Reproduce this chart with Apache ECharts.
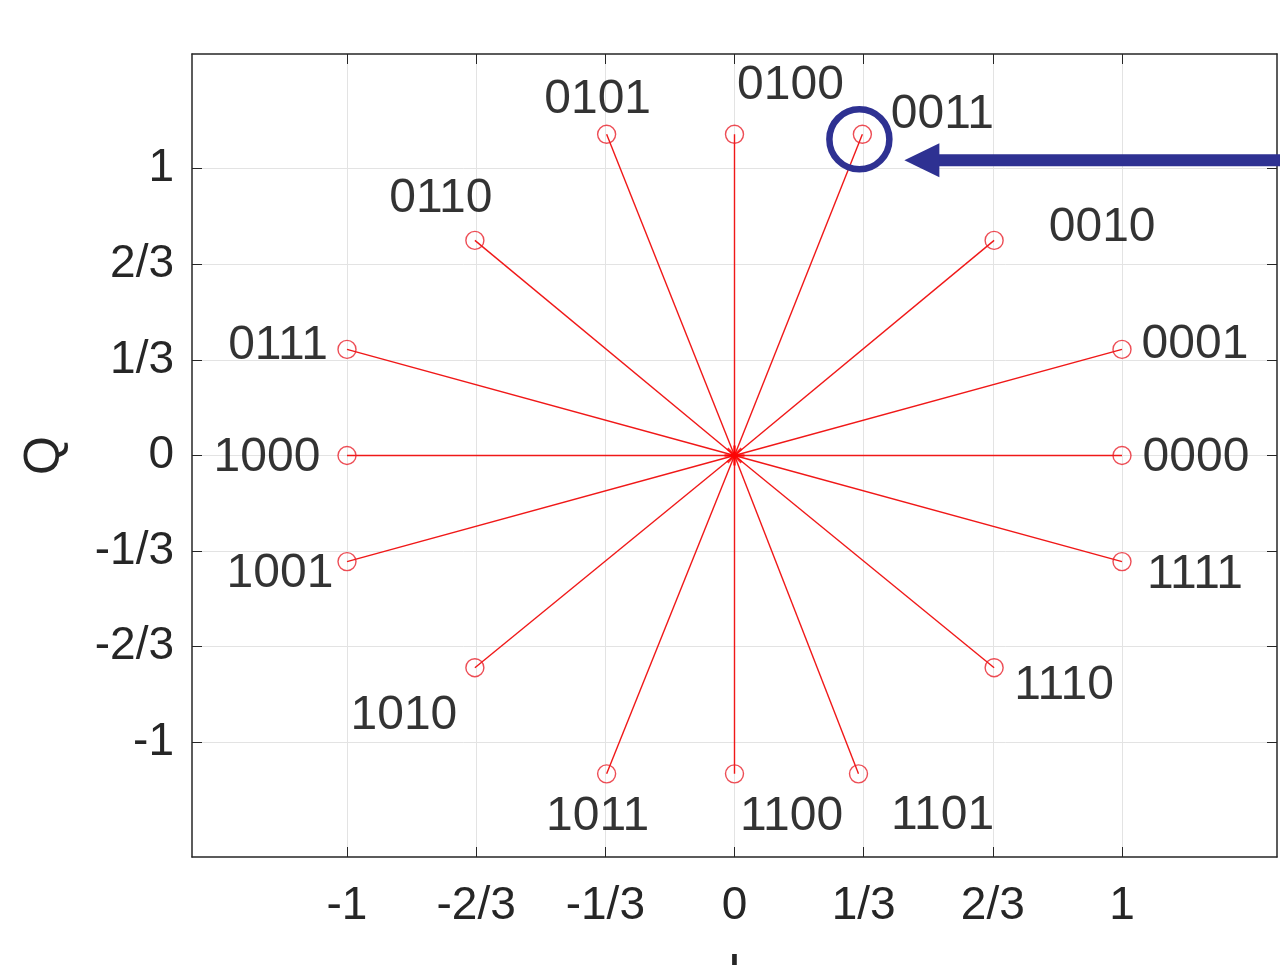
<!DOCTYPE html>
<html>
<head>
<meta charset="utf-8">
<script src="https://cdn.jsdelivr.net/npm/echarts@6/dist/echarts.min.js"></script>
<style>
html, body { margin: 0; padding: 0; background: #fff; }
#main { width: 1280px; height: 965px; }
</style>
</head>
<body>
<div id="main"></div>
<script>
// 星座图数据：比特组合 + I/Q 坐标
var symbols = ['0000', '0001', '0010', '0011', '0100', '0101', '0110', '0111',
               '1000', '1001', '1010', '1011', '1100', '1101', '1110', '1111'];
var iValues = [1, 1, 0.67, 0.33, 0, -0.33, -0.67, -1, -1, -1, -0.67, -0.33, 0, 0.32, 0.67, 1];
var qValues = [0, 0.37, 0.75, 1.12, 1.12, 1.12, 0.75, 0.37, 0, -0.37, -0.74, -1.11, -1.11, -1.11, -0.74, -0.37];
var tickValues = [-1, -2 / 3, -1 / 3, 0, 1 / 3, 2 / 3, 1];
var tickLabels = ['-1', '-2/3', '-1/3', '0', '1/3', '2/3', '1'];
var highlighted = '0011';

// 标签相对圆点中心的偏移 (px)
var labelOffsets = [[74, 2], [73, -5], [108, -13], [80, -20], [56, -49], [-9, -35], [-34, -42], [-69, -4],
                    [-80, 2], [-67, 12], [-71, 48], [-9, 43], [57, 43], [84, 42], [70, 18], [73, 13]];

var FONT = '"Liberation Sans", Arial, Helvetica, sans-serif';
var AXIS_COLOR = '#262626';
var BLUE = '#2e3192';

var myChart = echarts.init(document.getElementById('main'));

function tickFormatter(v) {
    for (var i = 0; i < tickValues.length; i++) {
        if (Math.abs(v - tickValues[i]) < 1e-6) return tickLabels[i];
    }
    return '';
}

function axisBase(position, withLabels, margin) {
    return {
        type: 'value',
        min: -1.4,
        max: 1.4,
        position: position,
        axisLine: { show: true, onZero: false, lineStyle: { color: AXIS_COLOR, width: 1.5 } },
        axisTick: { show: true, inside: true, length: 10, customValues: tickValues,
                    lineStyle: { color: AXIS_COLOR, width: 1 } },
        axisLabel: { show: withLabels, customValues: tickValues, formatter: tickFormatter,
                     fontFamily: FONT, fontSize: 46, color: AXIS_COLOR, margin: margin || 18 },
        splitLine: { show: withLabels, lineStyle: { color: '#e3e3e3', width: 1 } }
    };
}

var xBottom = axisBase('bottom', true, 26);
xBottom.name = 'I';
xBottom.nameLocation = 'middle';
xBottom.nameGap = 93;
xBottom.nameTextStyle = { fontFamily: FONT, fontSize: 50, color: AXIS_COLOR };

var yLeft = axisBase('left', true, 18);
yLeft.name = 'Q';
yLeft.nameLocation = 'middle';
yLeft.nameGap = 122;
yLeft.nameTextStyle = { fontFamily: FONT, fontSize: 50, color: AXIS_COLOR };

var series = [];

// 每个点一条从原点出发的连线
series.push({
    type: 'lines',
    coordinateSystem: 'cartesian2d',
    silent: true,
    z: 10,
    lineStyle: { color: '#f01818', width: 1.4, opacity: 1 },
    data: symbols.map(function (s, k) {
        return { coords: [[0, 0], [iValues[k], qValues[k]]] };
    })
});

series.push({
    type: 'scatter',
    symbol: 'circle',
    symbolSize: 18,
    z: 11,
    itemStyle: { color: 'rgba(255,255,255,0)', borderColor: '#e8202a', borderWidth: 1.4 },
    label: { show: true, position: 'inside', formatter: '{b}', fontFamily: FONT, fontSize: 48, color: '#000' },
    data: symbols.map(function (s, k) {
        return { name: s, value: [iValues[k], qValues[k]], label: { offset: labelOffsets[k] } };
    })
});

// 原点处的星号标记
series.push({
    type: 'scatter',
    symbol: 'path://M0,-10L0,10M-10,0L10,0M-7,-7L7,7M-7,7L7,-7',
    symbolSize: 20,
    z: 12,
    itemStyle: { color: 'rgba(0,0,0,0)', borderColor: '#ff0000', borderWidth: 2.5 },
    data: [[0, 0]]
});

var option = {
    backgroundColor: '#fff',
    animation: false,
    grid: { left: 192, right: 3, top: 54, bottom: 108, containLabel: false, outerBoundsMode: 'none' },
    xAxis: [xBottom, axisBase('top', false)],
    yAxis: [yLeft, axisBase('right', false)],
    series: series
};

myChart.setOption(option);

// 高亮某个点：蓝色圆圈 + 箭头
var k = symbols.indexOf(highlighted);
var p = myChart.convertToPixel({ gridIndex: 0 }, [iValues[k], qValues[k]]);
myChart.setOption({
    graphic: [
        { type: 'circle', z: 100, shape: { cx: p[0] - 3, cy: p[1] + 5, r: 30 },
          style: { fill: 'none', stroke: BLUE, lineWidth: 6.5 } },
        { type: 'rect', z: 100, shape: { x: p[0] + 72, y: p[1] + 20, width: 1280 - (p[0] + 72), height: 12 },
          style: { fill: BLUE } },
        { type: 'polygon', z: 100, shape: { points: [[p[0] + 42, p[1] + 26], [p[0] + 77, p[1] + 9], [p[0] + 77, p[1] + 43]] },
          style: { fill: BLUE } }
    ]
});

window.addEventListener('resize', function () {
    myChart.resize();
});
</script>
</body>
</html>
